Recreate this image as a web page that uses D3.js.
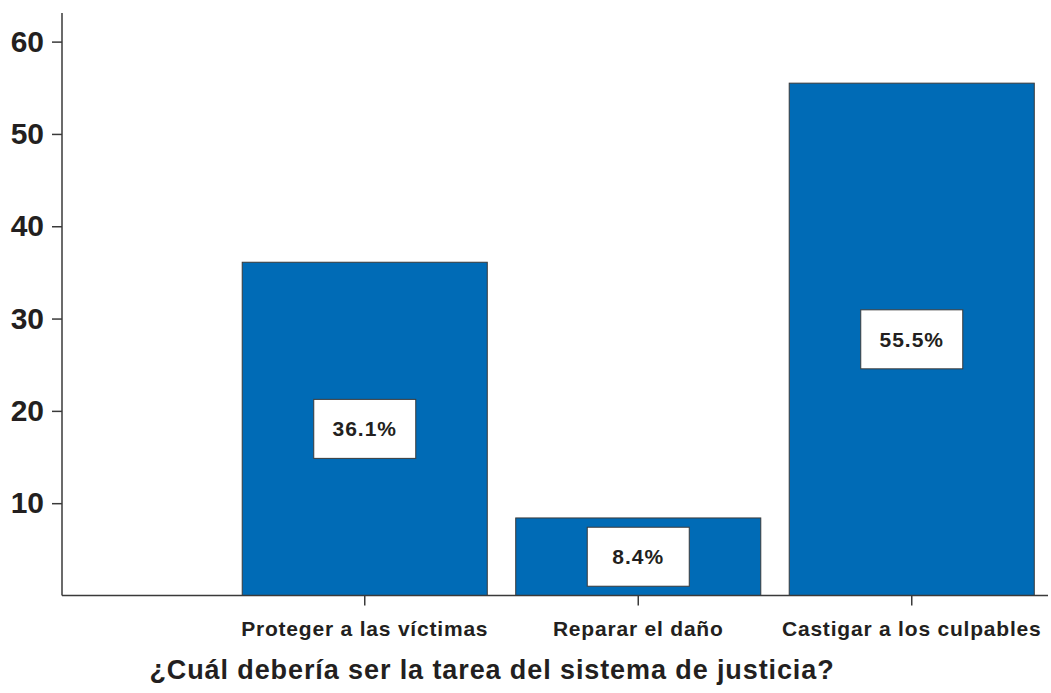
<!DOCTYPE html>
<html>
<head>
<meta charset="utf-8">
<script src="https://cdn.jsdelivr.net/npm/d3@7"></script>
<style>
  body { margin: 0; background: #fff; }
  text { font-family: "Liberation Sans", Arial, sans-serif; fill: #231f20; }
</style>
</head>
<body>
<div id="chart"></div>
<script>
const categories = ["Proteger a las víctimas", "Reparar el daño", "Castigar a los culpables"];
const values = [36.1, 8.4, 55.5];
const valueLabels = ["36.1%", "8.4%", "55.5%"];
const yTicks = [10, 20, 30, 40, 50, 60];
const xTitle = "¿Cuál debería ser la tarea del sistema de justicia?";

const W = 1051, H = 693;
const axisLeftX = 62, axisRightX = 1048;
const yTop = 13, yBottom = 595.5;

const svg = d3.select("#chart").append("svg")
  .attr("width", W).attr("height", H);

// scales
const y = d3.scaleLinear().domain([0, 63.1]).range([yBottom, yTop]);
const x = d3.scaleBand()
  .domain(categories)
  .range([228, 1048.5])
  .paddingInner(0.104)
  .paddingOuter(0.052);

// bars
svg.selectAll("rect.bar")
  .data(values)
  .enter()
  .append("rect")
  .attr("class", "bar")
  .attr("x", (d, i) => x(categories[i]))
  .attr("y", d => y(d))
  .attr("width", x.bandwidth())
  .attr("height", d => yBottom - y(d))
  .style("fill", "#006bb6")
  .style("stroke", "#3a3a3a")
  .style("stroke-width", 1);

// value label boxes
const boxW = 102, boxH = 59;
const labels = svg.selectAll("g.vlabel")
  .data(values)
  .enter()
  .append("g")
  .attr("class", "vlabel")
  .attr("transform", (d, i) => `translate(${x(categories[i]) + x.bandwidth() / 2},${(y(d) + yBottom) / 2})`);
labels.append("rect")
  .attr("x", -boxW / 2).attr("y", -boxH / 2)
  .attr("width", boxW).attr("height", boxH)
  .style("fill", "#fff")
  .style("stroke", "#3a3a3a")
  .style("stroke-width", 1);
labels.append("text")
  .attr("text-anchor", "middle")
  .attr("dy", "0.36em")
  .style("font-size", "21px")
  .style("font-weight", "bold")
  .style("letter-spacing", "1px")
  .text((d, i) => valueLabels[i]);

// y axis
const yAxis = svg.append("g")
  .attr("transform", `translate(${axisLeftX},0)`)
  .call(d3.axisLeft(y).tickValues(yTicks).tickSize(10).tickSizeOuter(0).tickPadding(8));
yAxis.select(".domain").remove();
yAxis.selectAll(".tick line").style("stroke", "#3a3a3a").style("stroke-width", 1.5);
yAxis.selectAll(".tick text")
  .style("font-size", "30px")
  .style("font-weight", "bold")
  .style("fill", "#231f20");
svg.append("line")
  .attr("x1", axisLeftX).attr("x2", axisLeftX)
  .attr("y1", yTop).attr("y2", yBottom)
  .style("stroke", "#3a3a3a").style("stroke-width", 1.5);

// x axis
const xAxis = svg.append("g")
  .attr("transform", `translate(0,${yBottom})`)
  .call(d3.axisBottom(x).tickSize(10).tickSizeOuter(0).tickPadding(16));
xAxis.select(".domain").remove();
xAxis.selectAll(".tick line").style("stroke", "#3a3a3a").style("stroke-width", 1.5);
xAxis.selectAll(".tick text")
  .style("font-size", "21px")
  .style("font-weight", "bold")
  .style("letter-spacing", "0.8px")
  .style("fill", "#231f20");
svg.append("line")
  .attr("x1", axisLeftX).attr("x2", axisRightX)
  .attr("y1", yBottom).attr("y2", yBottom)
  .style("stroke", "#3a3a3a").style("stroke-width", 1.5);

// x title
svg.append("text")
  .attr("x", 492)
  .attr("y", 679)
  .attr("text-anchor", "middle")
  .style("font-size", "27px")
  .style("font-weight", "bold")
  .style("letter-spacing", "0.9px")
  .text(xTitle);
</script>
</body>
</html>
